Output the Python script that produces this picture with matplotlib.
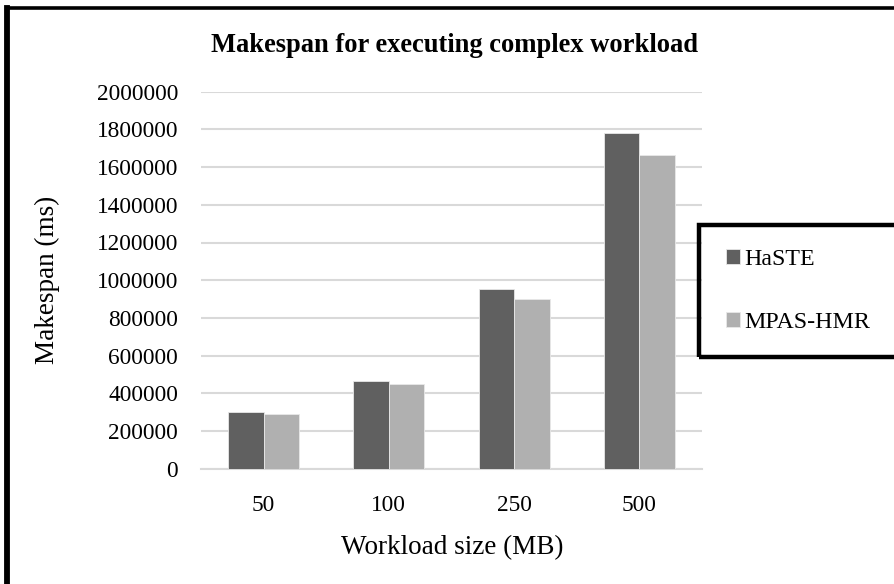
import matplotlib
matplotlib.use("Agg")
import matplotlib.pyplot as plt
from matplotlib.patches import Rectangle
import numpy as np

categories = ["50", "100", "250", "500"]
haste = [300000, 466000, 955000, 1783000]
mpas_hmr = [289000, 447000, 898000, 1663000]
series_names = ["HaSTE", "MPAS-HMR"]
yticks = [0, 200000, 400000, 600000, 800000, 1000000, 1200000, 1400000, 1600000, 1800000, 2000000]

plt.rcParams['font.family'] = ['Liberation Serif', 'DejaVu Serif']

W, H = 895, 584
fig = plt.figure(figsize=(W / 100, H / 100), dpi=100)
ax = fig.add_axes([201 / W, 1 - 468.7 / H, (702 - 201) / W, (468.7 - 91.7) / H])

x = np.arange(len(categories))
bw = 0.283
c1, c2 = "#606060", "#b0b0b0"
b1 = ax.bar(x - bw / 2, haste, bw, color=c1, edgecolor="#e8e8e8", linewidth=0.6, zorder=3, label=series_names[0])
b2 = ax.bar(x + bw / 2, mpas_hmr, bw, color=c2, edgecolor="#e8e8e8", linewidth=0.6, zorder=3, label=series_names[1])

ax.set_xlim(-0.5, len(categories) - 0.5)
ax.set_ylim(0, 2000000)
ax.set_yticks(yticks)
ax.set_yticklabels([str(v) for v in yticks])
ax.set_xticks(x)
ax.set_xticklabels(categories)
ax.tick_params(axis='both', length=0, labelsize=16.8, colors="#000000")
ax.tick_params(axis='y', pad=16.5)
ax.tick_params(axis='x', pad=19)
ax.grid(axis='y', color="#d9d9d9", linewidth=1.5, zorder=0)
for s in ["top", "right", "left"]:
    ax.spines[s].set_visible(False)
ax.spines["bottom"].set_color("#d9d9d9")
ax.spines["bottom"].set_linewidth(1.5)

fig.text(452 / W, 1 - 548 / H, "Workload size (MB)", fontsize=19.5, ha="center", va="center")
fig.text(47 / W, 1 - 280 / H, "Makespan (ms)", rotation=90, fontsize=19.5, ha="center", va="center")
fig.text(455 / W, 1 - 45 / H, "Makespan for executing complex workload", fontsize=19.1, fontweight="bold",
         ha="center", va="center")

# figure frame lines (left and top)
fig.add_artist(plt.Line2D([7 / W, 7 / W], [0, 1 - 8 / H], transform=fig.transFigure, color="black", linewidth=4.2, solid_capstyle="projecting"))
fig.add_artist(plt.Line2D([7 / W, 1], [1 - 8 / H, 1 - 8 / H], transform=fig.transFigure, color="black", linewidth=2.6, solid_capstyle="projecting"))

# legend box
fig.add_artist(Rectangle((699 / W, 1 - 357 / H), (910 - 699) / W, (357 - 225) / H, transform=fig.transFigure,
                         fill=False, edgecolor="black", linewidth=3.2, clip_on=False))
leg = fig.legend(handles=[b1, b2], loc="center left", bbox_to_anchor=(726 / W, 1 - 291 / H), frameon=False,
                 fontsize=17.2, handlelength=0.6, handleheight=0.6, handletextpad=0.15, labelspacing=1.75,
                 borderpad=0, borderaxespad=0)

fig.savefig("out.png", dpi=100)
